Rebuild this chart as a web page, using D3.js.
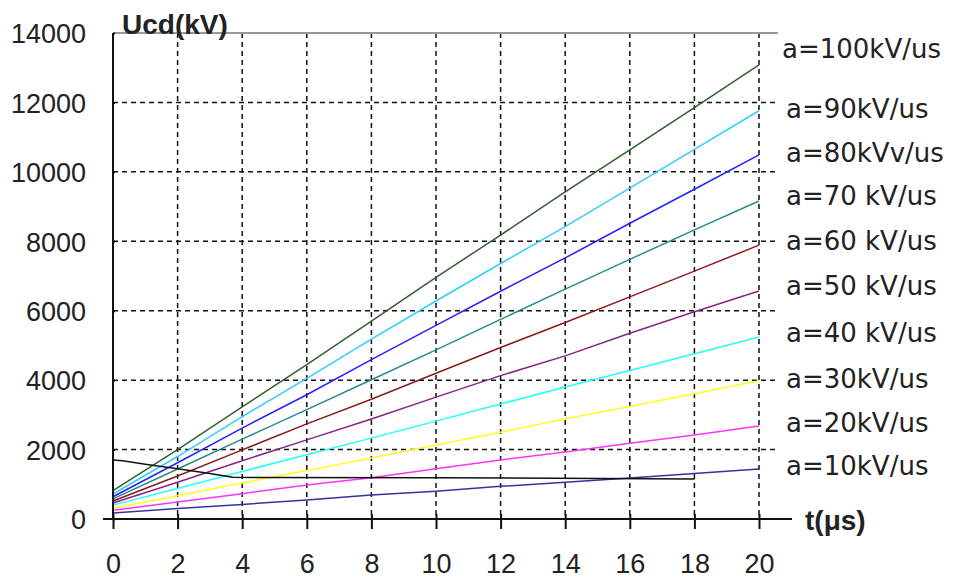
<!DOCTYPE html>
<html lang="en">
<head>
    <meta charset="UTF-8">
    <title>Ucd(kV)</title>
    <script src="https://d3js.org/d3.v7.min.js"></script>
    <style>
        body { margin: 0; background: white; }
    </style>
</head>
<body>
    <script>
        // t (us) sample points
        var times = [0, 2, 4, 6, 8, 10, 12, 14, 16, 18, 20];
        var xTicks = [0, 2, 4, 6, 8, 10, 12, 14, 16, 18, 20];
        var yTicks = [0, 2000, 4000, 6000, 8000, 10000, 12000, 14000];

        var labels = ["a=100kV/us", "a=90kV/us", "a=80kVv/us", "a=70 kV/us", "a=60 kV/us",
                      "a=50 kV/us", "a=40 kV/us", "a=30kV/us", "a=20kV/us", "a=10kV/us"];
        var colors = ["#2f5f2f", "#33ccff", "#2222ff", "#2a8a8a", "#8b1a1a",
                      "#882288", "#22ffff", "#ffff22", "#ff33ff", "#333399"];

        var u100 = [820, 2000, 3230, 4450, 5700, 6960, 8180, 9420, 10630, 11850, 13080];
        var u90  = [720, 1800, 2950, 4050, 5180, 6280, 7360, 8420, 9530, 10650, 11760];
        var u80  = [640, 1620, 2620, 3580, 4590, 5580, 6560, 7520, 8520, 9500, 10490];
        var u70  = [580, 1440, 2300, 3150, 4010, 4870, 5750, 6620, 7480, 8330, 9160];
        var u60  = [520, 1240, 1990, 2740, 3450, 4200, 4940, 5660, 6400, 7140, 7890];
        var u50  = [460, 1060, 1680, 2280, 2880, 3510, 4130, 4700, 5350, 5970, 6570];
        var u40  = [400, 880, 1370, 1850, 2330, 2820, 3310, 3800, 4280, 4760, 5240];
        var u30  = [310, 670, 1040, 1400, 1760, 2130, 2500, 2890, 3240, 3610, 3980];
        var u20  = [250, 490, 730, 980, 1190, 1450, 1700, 1930, 2180, 2420, 2680];
        var u10  = [170, 300, 420, 550, 690, 800, 940, 1060, 1180, 1310, 1440];
        var series = [u100, u90, u80, u70, u60, u50, u40, u30, u20, u10];

        // black curve
        var blackT = [0, 0.3, 1, 2, 3, 3.7, 10, 18];
        var blackU = [1700, 1680, 1580, 1450, 1310, 1200, 1190, 1150];

        // label baselines (y in px)
        var labelY = [58, 118, 162, 205, 250, 295, 342, 388, 432, 475];

        var svg = d3.select("body")
            .append("svg")
            .attr("width", 953)
            .attr("height", 581);

        var x = d3.scaleLinear().domain([0, 20]).range([113, 759]);
        var y = d3.scaleLinear().domain([0, 14000]).range([519, 33]);

        // horizontal grid
        svg.selectAll(".hgrid")
            .data(yTicks.filter(function(d){ return d > 0 && d < 14000; }))
            .enter().append("line")
            .attr("x1", 113).attr("x2", 778)
            .attr("y1", function(d){ return y(d); })
            .attr("y2", function(d){ return y(d); })
            .style("stroke", "#111")
            .style("stroke-width", 1.5)
            .style("stroke-dasharray", "5,4");

        // vertical grid
        svg.selectAll(".vgrid")
            .data(xTicks.filter(function(d){ return d > 0; }))
            .enter().append("line")
            .attr("x1", function(d){ return x(d); })
            .attr("x2", function(d){ return x(d); })
            .attr("y1", 33).attr("y2", 519)
            .style("stroke", "#111")
            .style("stroke-width", 1.5)
            .style("stroke-dasharray", "5,4");

        // top border
        svg.append("line")
            .attr("x1", 113).attr("x2", 778)
            .attr("y1", y(14000)).attr("y2", y(14000))
            .style("stroke", "#999")
            .style("stroke-width", 2);

        // lines
        var line = d3.line()
            .x(function(d){ return x(d[0]); })
            .y(function(d){ return y(d[1]); });

        for (var i = 0; i < series.length; i++) {
            svg.append("path")
                .datum(times.map(function(t, j){ return [t, series[i][j]]; }))
                .attr("d", line)
                .style("fill", "none")
                .style("stroke", colors[i])
                .style("stroke-width", 1.5);
        }

        svg.append("path")
            .datum(blackT.map(function(t, j){ return [t, blackU[j]]; }))
            .attr("d", line)
            .style("fill", "none")
            .style("stroke", "#111")
            .style("stroke-width", 1.5);

        // axes
        var yAxis = svg.append("g")
            .attr("transform", "translate(113,0)")
            .call(d3.axisLeft(y).tickValues(yTicks).tickFormat(d3.format("d")).tickSize(10).tickPadding(17));
        yAxis.select(".domain").remove();
        yAxis.selectAll(".tick line").attr("x2", 2).style("stroke", "#111").style("stroke-width", 2);
        yAxis.selectAll(".tick text")
            .attr("dy", "0.36em")
            .style("font-family", "'Liberation Sans', Arial, sans-serif")
            .style("font-size", "27px")
            .style("fill", "#222");

        var xAxis = svg.append("g")
            .attr("transform", "translate(0,519)")
            .call(d3.axisBottom(x).tickValues(xTicks).tickSize(10).tickPadding(25));
        xAxis.select(".domain").remove();
        xAxis.selectAll(".tick line").attr("y1", -5).style("stroke", "#111").style("stroke-width", 2);
        xAxis.selectAll(".tick text")
            .attr("dy", "0.71em")
            .style("font-family", "'Liberation Sans', Arial, sans-serif")
            .style("font-size", "27px")
            .style("fill", "#222");

        svg.append("line")
            .attr("x1", 113).attr("x2", 113)
            .attr("y1", 33).attr("y2", 520)
            .style("stroke", "#111").style("stroke-width", 2);
        svg.append("line")
            .attr("x1", 103).attr("x2", 792)
            .attr("y1", 519).attr("y2", 519)
            .style("stroke", "#111").style("stroke-width", 2);

        // axis titles
        svg.append("text")
            .attr("x", 122).attr("y", 34)
            .text("Ucd(kV)")
            .style("font-family", "'Liberation Sans', Arial, sans-serif")
            .style("font-weight", "bold")
            .style("font-size", "28px")
            .style("fill", "#222");
        svg.append("text")
            .attr("x", 805).attr("y", 530)
            .text("t(μs)")
            .style("font-family", "'Liberation Sans', Arial, sans-serif")
            .style("font-weight", "bold")
            .style("font-size", "28px")
            .style("fill", "#222");

        // series labels
        svg.selectAll(".lab")
            .data(labels)
            .enter().append("text")
            .attr("x", function(d, i){ return i === 0 ? 782 : 786; })
            .attr("y", function(d, i){ return labelY[i]; })
            .text(function(d){ return d; })
            .style("font-family", "'DejaVu Sans', sans-serif")
            .style("font-size", "26px")
            .style("fill", "#222");
    </script>
</body>
</html>
